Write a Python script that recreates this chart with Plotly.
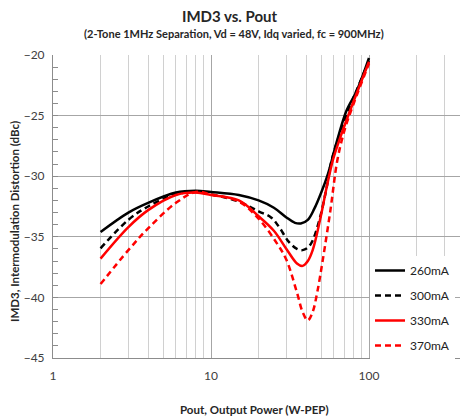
import plotly.graph_objects as go

# ---- data ----
series_names = ["260mA", "300mA", "330mA", "370mA"]

x_260 = [2, 3, 4, 6, 8, 10, 15, 20, 25, 30, 34, 37, 41, 45, 50, 55, 63, 72, 84, 100]
y_260 = [-34.6, -33.0, -32.2, -31.35, -31.2, -31.3, -31.55, -32.0, -32.6, -33.4,
         -33.85, -33.9, -33.6, -32.7, -31.3, -29.8, -27.0, -24.6, -22.9, -20.25]

x_300 = [2, 3, 4, 6, 8, 10, 15, 20, 24, 27, 31, 35, 38, 41, 44, 49, 54, 58, 65, 80, 100]
y_300 = [-35.95, -33.6, -32.5, -31.5, -31.3, -31.5, -32.1, -32.9, -33.4, -34.2, -35.4,
         -36.0, -36.1, -35.9, -35.3, -33.4, -30.9, -28.7, -26.6, -23.5, -20.5]

x_330 = [2, 3, 4, 6, 8, 10, 15, 20, 25, 30, 35, 38, 41, 44, 49, 54, 59, 65, 80, 100]
y_330 = [-36.8, -34.2, -32.8, -31.55, -31.35, -31.55, -32.0, -33.3, -34.5, -36.0,
         -37.2, -37.4, -37.0, -36.1, -33.6, -30.9, -28.7, -27.0, -23.8, -20.55]

x_370 = [2, 3, 4, 6, 8, 10, 15, 20, 26, 30, 35, 38, 41, 44, 47, 51, 57, 63, 70, 80, 100]
y_370 = [-38.9, -36.1, -34.3, -32.2, -31.3, -31.5, -32.1, -33.5, -35.5, -36.9, -39.6,
         -41.2, -41.9, -41.2, -39.6, -36.9, -32.8, -28.7, -26.2, -24.0, -20.7]

x_ticks = [1, 10, 100]
x_tick_labels = ["1", "10", "100"]
x_minor = [2, 3, 4, 5, 6, 7, 8, 9, 20, 30, 40, 50, 60, 70, 80, 90, 200, 300]
y_ticks = [-45, -40, -35, -30, -25, -20]

FONT = "Lato"
RED = "#FF0000"

styles = [
    dict(color="black", dash="solid"),
    dict(color="black", dash="6px,4px"),
    dict(color=RED, dash="solid"),
    dict(color=RED, dash="6px,4px"),
]

fig = go.Figure()
for name, xs, ys, st in zip(series_names, [x_260, x_300, x_330, x_370],
                            [y_260, y_300, y_330, y_370], styles):
    fig.add_trace(go.Scatter(
        x=xs, y=ys, mode="lines", name=name, legendgroup=name,
        line=dict(color=st["color"], dash=st["dash"], width=2.5, shape="spline", smoothing=1.0),
    ))

L, R, T, B = 53, 0, 55, 62
W, H = 460, 420
pw = W - L - R
ph = H - T - B

def px_x(p):
    return (p - L) / pw

def px_y(p):
    return (H - B - p) / ph

fig.update_layout(
    width=W, height=H,
    margin=dict(l=L, r=R, t=T, b=B, pad=0),
    paper_bgcolor="white", plot_bgcolor="white",
    font=dict(family=FONT, size=12, color="#404040"),
    showlegend=True,
    legend=dict(
        x=px_x(370), xanchor="left", y=px_y(256), yanchor="top",
        bgcolor="white", borderwidth=0, tracegroupgap=6,
        font=dict(family=FONT, size=12, color="#222222"),
        traceorder="grouped",
    ),
    xaxis=dict(
        type="log", range=[0, (W - L - R) / 158.0],
        tickvals=x_ticks, ticktext=x_tick_labels, ticks="",
        ticklabelstandoff=7,
        showgrid=True, gridcolor="#A6A6A6", gridwidth=1,
        minor=dict(tickvals=x_minor, showgrid=True, gridcolor="#D0D0D0", gridwidth=1, ticks=""),
        showline=True, linecolor="#8C8C8C", linewidth=1,
        zeroline=False,
        tickfont=dict(family=FONT, size=12, color="#404040"),
    ),
    yaxis=dict(
        range=[-45, -20], tickvals=y_ticks,
        showgrid=True, gridcolor="#A6A6A6", gridwidth=1,
        ticks="inside", ticklen=5, tickcolor="#8C8C8C",
        ticklabelstandoff=5,
        minor=dict(dtick=1, ticks="inside", ticklen=5, tickcolor="#8C8C8C", showgrid=False),
        showline=True, linecolor="#8C8C8C", linewidth=1,
        zeroline=False,
        tickfont=dict(family=FONT, size=12, color="#404040"),
    ),
    shapes=[dict(type="rect", xref="paper", yref="paper",
                 x0=px_x(359), x1=1.0, y0=0.0, y1=px_y(255),
                 fillcolor="white", line=dict(width=0), layer="between")],
    annotations=[
        dict(text="<b>IMD3 vs. Pout</b>", xref="paper", yref="paper",
             x=px_x(230), y=px_y(16), xanchor="center", yanchor="middle",
             showarrow=False, font=dict(family=FONT, size=15, color="#262626")),
        dict(text="<b>(2-Tone 1MHz Separation, Vd = 48V, Idq varied, fc = 900MHz)</b>",
             xref="paper", yref="paper",
             x=px_x(234), y=px_y(34), xanchor="center", yanchor="middle",
             showarrow=False, font=dict(family=FONT, size=11, color="#262626")),
        dict(text="<b>Pout, Output Power (W-PEP)</b>", xref="paper", yref="paper",
             x=px_x(254), y=px_y(409), xanchor="center", yanchor="middle",
             showarrow=False, font=dict(family=FONT, size=11.5, color="#262626")),
        dict(text="<b>IMD3, Intermodulation Distortion (dBc)</b>", xref="paper", yref="paper",
             x=px_x(14), y=px_y(222), xanchor="center", yanchor="middle", textangle=-90,
             showarrow=False, font=dict(family=FONT, size=11.5, color="#262626")),
    ],
)

fig.write_html("out.html")
